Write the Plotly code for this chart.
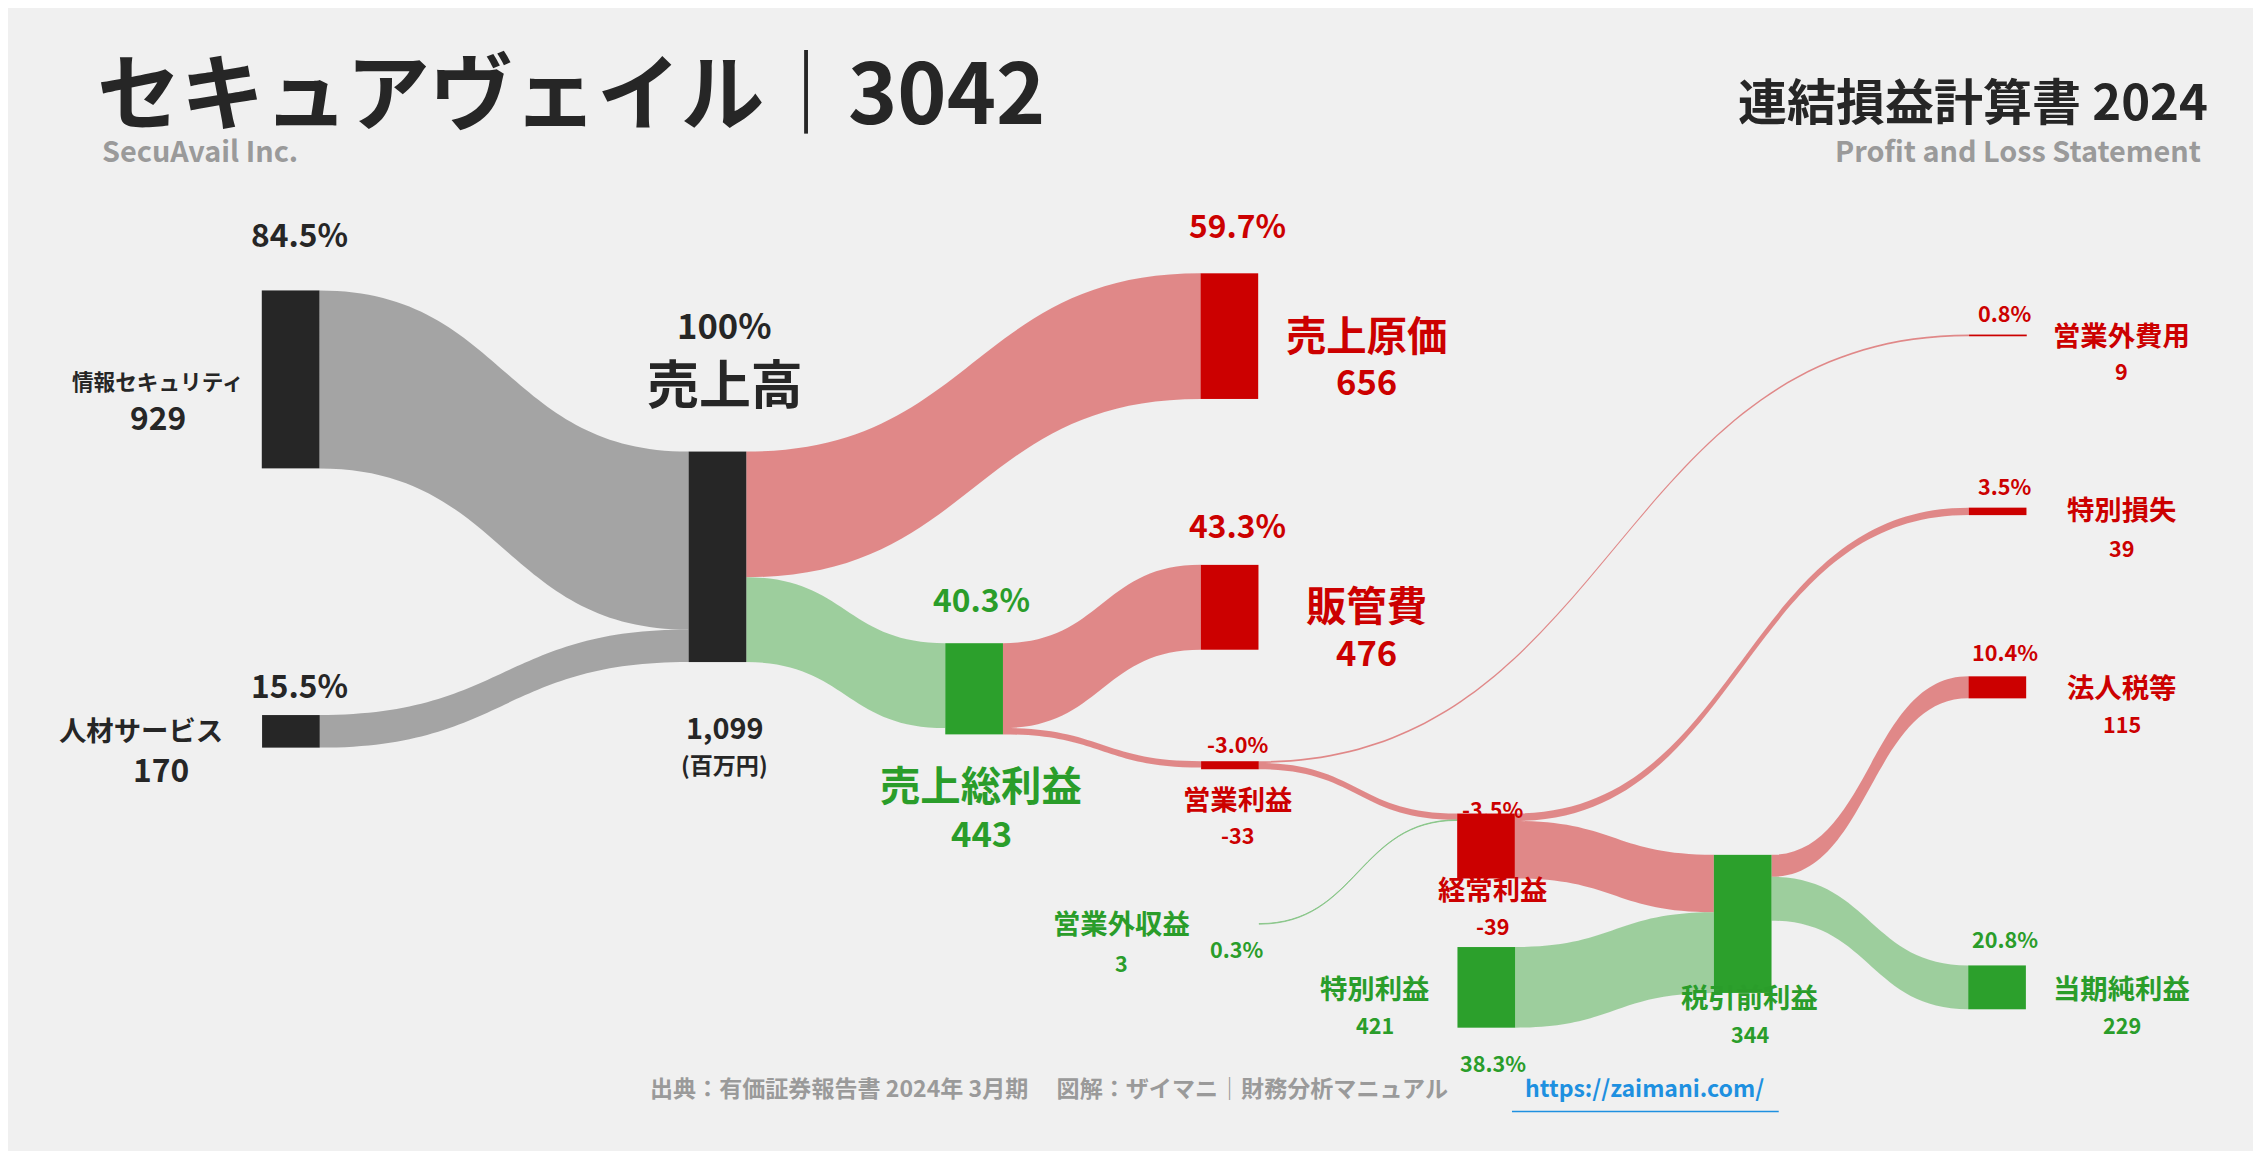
import plotly.graph_objects as go

W, H = 2261, 1151
S = W / 1568

node_labels = ["情報セキュリティ", "人材サービス", "売上高", "売上総利益", "売上原価", "販管費", "営業利益",
               "営業外収益", "営業外費用", "経常利益", "特別利益", "特別損失", "税引前利益", "法人税等", "当期純利益"]
node_colors = ["#262626", "#262626", "#262626", "#2ca02c", "#cc0000", "#cc0000", "#cc0000",
               "rgba(0,0,0,0)", "#cc0000", "#cc0000", "#2ca02c", "#cc0000", "#2ca02c", "#cc0000", "#2ca02c"]
# node positions in reference pixels (center x, center y); tiny offsets keep nodes independent
node_cx = [196, 196.2, 492, 670, 847, 847.2, 847.4, 847.6, 1380, 1025, 1025.2, 1379.8, 1203, 1379.6, 1379.4]
node_cy = [257.5, 501.5, 380.5, 472, 227.5, 415.5, 525, 635, 227, 581, 679, 349, 635, 471, 679]

src = [0, 1, 2, 2, 3, 3, 6, 6, 7, 9, 9, 10, 12, 12]
tgt = [2, 2, 4, 3, 5, 6, 8, 9, 9, 11, 12, 12, 13, 14]
vals = [929, 170, 656, 443, 443, 33, 9, 33, 3, 39, 300, 421, 115, 229]
GRAY, RED, GREEN = "rgba(150,150,150,0.85)", "rgba(220,110,110,0.8)", "rgba(130,195,130,0.75)"
link_colors = [GRAY, GRAY, RED, GREEN, RED, RED, RED, RED, GREEN, RED, RED, GREEN, RED, GREEN]

TOP, BOT = 110, 704
LFT, RGT = 150, 1450
fig = go.Figure(go.Sankey(
    arrangement="fixed",
    domain=dict(x=[LFT / 1568, RGT / 1568], y=[1 - BOT / 798, 1 - TOP / 798]),
    node=dict(label=["" for _ in node_labels], color=node_colors, thickness=40 * S, pad=1000,
              line=dict(width=0),
              x=[(c - LFT) / (RGT - LFT) for c in node_cx],
              y=[(c - TOP) / (BOT - TOP) for c in node_cy], hoverinfo="skip"),
    link=dict(source=src, target=tgt, value=vals, color=link_colors, hoverinfo="skip"),
))

DARK, RD, GR, GY = "#262626", "#cc0000", "#2a9d2a", "#9a9a9a"
ann = [
    ("84.5%", 202, 163, DARK, 22, "center"),
    ("情報セキュリティ", 104, 265, DARK, 15, "center"), ("929", 104, 290, DARK, 22, "center"),
    ("15.5%", 202, 476, DARK, 22, "center"),
    ("人材サービス", 92, 507, DARK, 19, "center"), ("170", 106, 534, DARK, 22, "center"),
    ("100%", 497, 226, DARK, 24, "center"), ("売上高", 497, 266, DARK, 36, "center"),
    ("1,099", 497, 505, DARK, 20, "center"), ("(百万円)", 497, 531, DARK, 16, "center"),
    ("59.7%", 853, 157, RD, 22, "center"), ("売上原価", 942, 233, RD, 28, "center"), ("656", 942, 265, RD, 24, "center"),
    ("43.3%", 853, 365, RD, 22, "center"), ("販管費", 942, 420, RD, 28, "center"), ("476", 942, 453, RD, 24, "center"),
    ("40.3%", 675, 416, GR, 22, "center"), ("売上総利益", 675, 545, GR, 28, "center"), ("443", 675, 578, GR, 24, "center"),
    ("-3.0%", 853, 517, RD, 15, "center"), ("営業利益", 853, 555, RD, 19, "center"), ("-33", 853, 580, RD, 15, "center"),
    ("0.8%", 1385, 218, RD, 15, "center"), ("営業外費用", 1466, 233, RD, 19, "center"), ("9", 1466, 258, RD, 15, "center"),
    ("3.5%", 1385, 338, RD, 15, "center"), ("特別損失", 1466, 354, RD, 19, "center"), ("39", 1466, 381, RD, 15, "center"),
    ("10.4%", 1385, 453, RD, 15, "center"), ("法人税等", 1466, 477, RD, 19, "center"), ("115", 1466, 503, RD, 15, "center"),
    ("20.8%", 1385, 652, GR, 15, "center"), ("当期純利益", 1466, 686, GR, 19, "center"), ("229", 1466, 712, GR, 15, "center"),
    ("-3.5%", 1030, 562, RD, 15, "center"), ("経常利益", 1030, 617, RD, 19, "center"), ("-39", 1030, 643, RD, 15, "center"),
    ("営業外収益", 772, 641, GR, 19, "center"), ("3", 772, 669, GR, 15, "center"), ("0.3%", 852, 659, GR, 15, "center"),
    ("特別利益", 948, 686, GR, 19, "center"), ("421", 948, 712, GR, 15, "center"), ("38.3%", 1030, 738, GR, 15, "center"),
    ("税引前利益", 1208, 692, GR, 19, "center"), ("344", 1208, 718, GR, 15, "center"),
    ("セキュアヴェイル｜3042", 60, 62, DARK, 58, "left"),
    ("SecuAvail Inc.", 64, 105, GY, 20, "left"),
    ("連結損益計算書 2024", 1527, 70, DARK, 34, "right"),
    ("Profit and Loss Statement", 1522, 105, GY, 20, "right"),
    ("出典：有価証券報告書 2024年 3月期　 図解：ザイマニ｜財務分析マニュアル", 722, 755, GY, 16, "center"),
    ("https://zaimani.com/", 1135, 755, "#1e90e0", 16, "center"),
]
DY = -7
for t, x, y, c, s, al in ann:
    fig.add_annotation(text=f"<b>{t}</b>", x=x / 1568, y=1 - (y + DY) / 798, xref="paper", yref="paper",
                       xanchor=al, yanchor="middle", showarrow=False,
                       font=dict(color=c, size=s * S, family="Noto Sans CJK JP, Lato, sans-serif"))
fig.add_shape(type="line", x0=1043 / 1568, x1=1228 / 1568, y0=1 - 765 / 798, y1=1 - 765 / 798,
              xref="paper", yref="paper", line=dict(color="#1e90e0", width=1.5))

fig.update_layout(width=W, height=H, margin=dict(l=0, r=0, t=0, b=0),
                  paper_bgcolor="#f0f0f0", plot_bgcolor="#f0f0f0")
fig.write_html("out.html")
